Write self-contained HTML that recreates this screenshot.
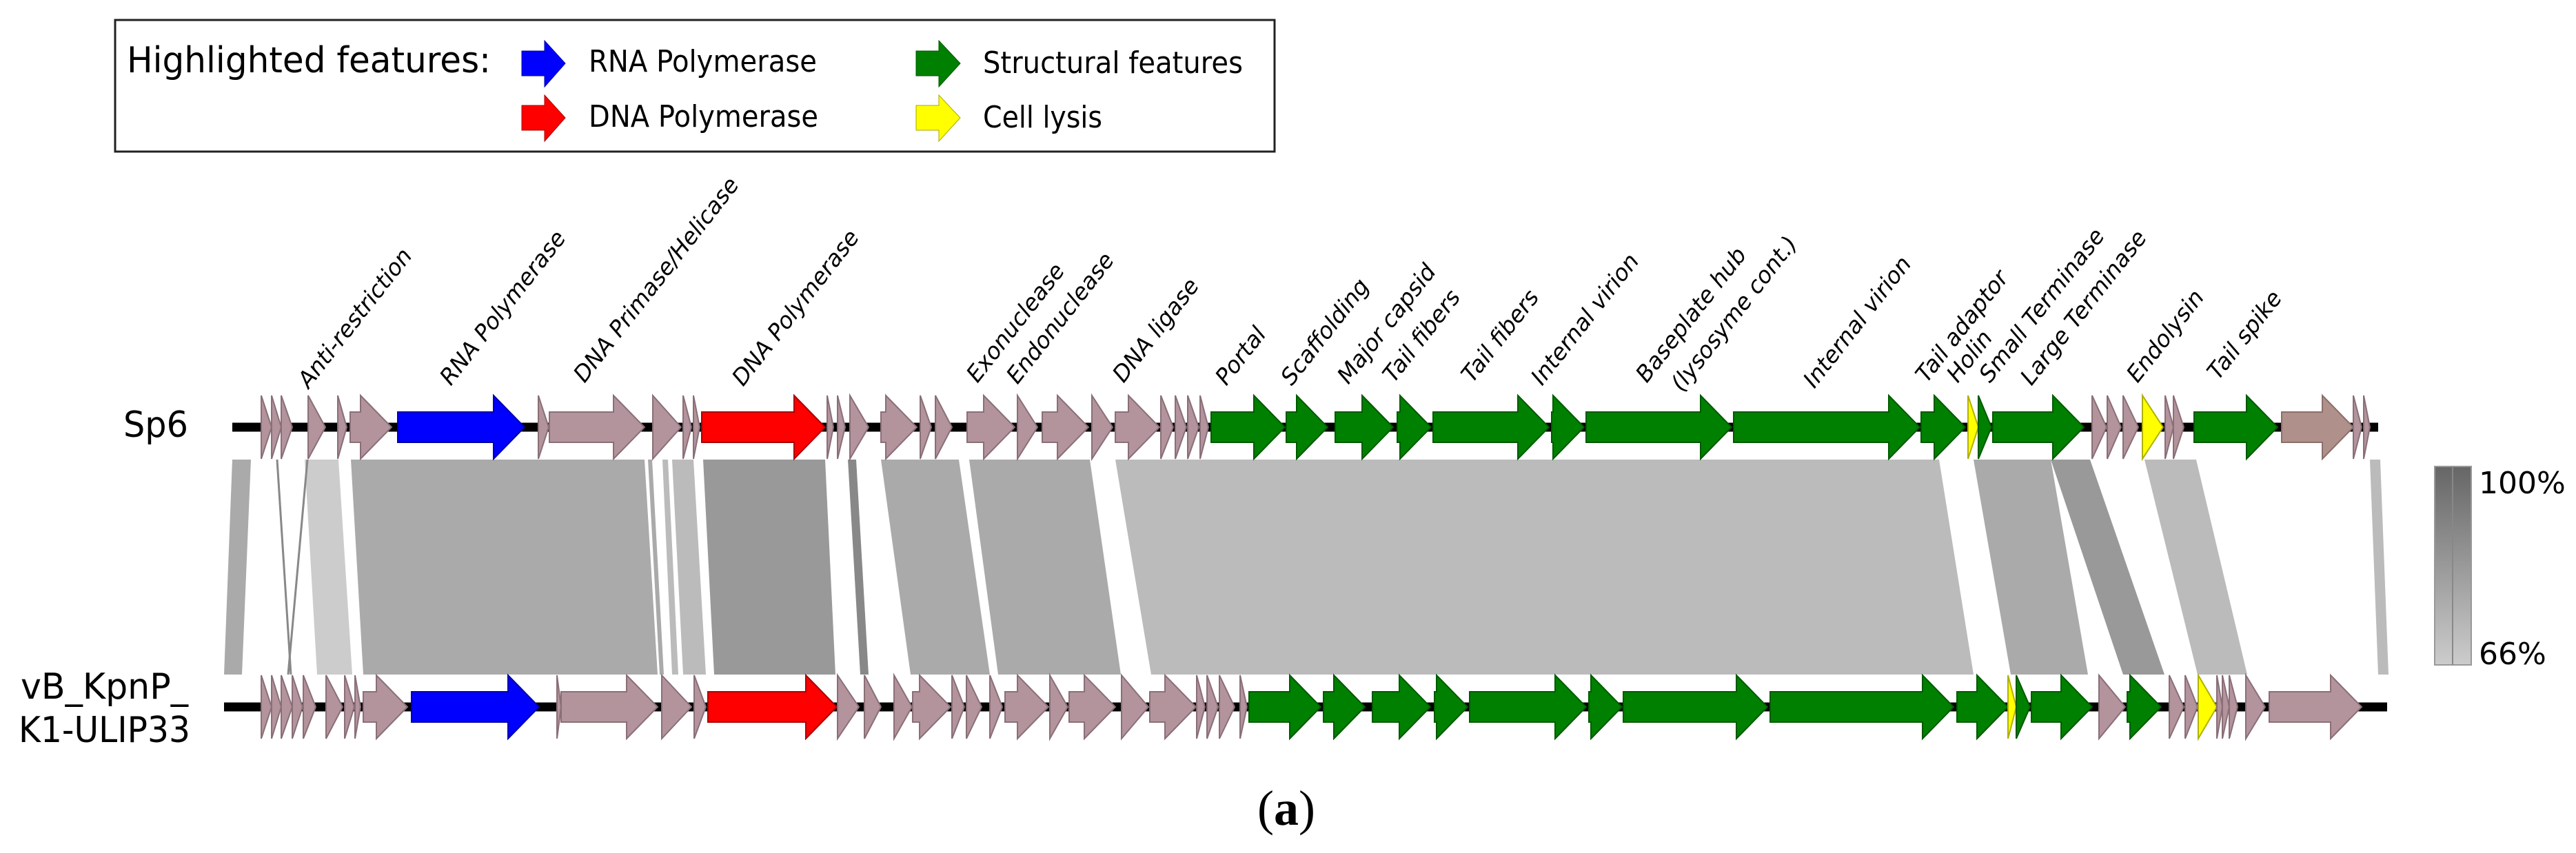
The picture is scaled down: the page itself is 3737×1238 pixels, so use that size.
<!DOCTYPE html>
<html><head><meta charset="utf-8"><style>
html,body{margin:0;padding:0;background:#fff;}
svg{display:block;}
.lab{font-family:"DejaVu Sans","Liberation Sans",sans-serif;font-style:oblique;font-size:33px;fill:#000;}
.big{font-family:"DejaVu Sans","Liberation Sans",sans-serif;font-size:52px;fill:#000;}
.leg{font-family:"DejaVu Sans","Liberation Sans",sans-serif;font-size:44px;fill:#000;}
</style></head><body>
<svg id="s" width="3737" height="1238" viewBox="0 0 3737 1238" xmlns="http://www.w3.org/2000/svg">
<defs><linearGradient id="g" x1="0" y1="0" x2="0" y2="1"><stop offset="0" stop-color="#666"/><stop offset="1" stop-color="#ccc"/></linearGradient></defs>
<rect x="167" y="29" width="1682" height="191" fill="#fff" stroke="#222" stroke-width="3"/>
<text class="big" x="184" y="105" textLength="528" lengthAdjust="spacingAndGlyphs">Highlighted features:</text>
<polygon points="757,74 790,74 790,59 820,92 790,126 790,110 757,110" fill="#0000ff" stroke="#0000aa"/>
<polygon points="757,153 790,153 790,138 820,171 790,205 790,189 757,189" fill="#ff0000" stroke="#aa0000"/>
<polygon points="1329,74 1362,74 1362,59 1393,92 1362,126 1362,110 1329,110" fill="#008000" stroke="#005500"/>
<polygon points="1329,153 1362,153 1362,138 1393,171 1362,205 1362,189 1329,189" fill="#ffff00" stroke="#aaaa00"/>
<text class="leg" x="854" y="104" textLength="331" lengthAdjust="spacingAndGlyphs">RNA Polymerase</text>
<text class="leg" x="854" y="184" textLength="333" lengthAdjust="spacingAndGlyphs">DNA Polymerase</text>
<text class="leg" x="1426" y="106" textLength="377" lengthAdjust="spacingAndGlyphs">Structural features</text>
<text class="leg" x="1426" y="185" textLength="173" lengthAdjust="spacingAndGlyphs">Cell lysis</text>
<text class="big" x="273" y="634" text-anchor="end" textLength="94" lengthAdjust="spacingAndGlyphs">Sp6</text>
<text class="big" x="273" y="1014" text-anchor="end" textLength="243" lengthAdjust="spacingAndGlyphs">vB_KpnP_</text>
<text class="big" x="276" y="1077" text-anchor="end" textLength="249" lengthAdjust="spacingAndGlyphs">K1-ULIP33</text>
<g id="bands"></g>
<g id="tracks"></g>
<g>
<text class="lab" transform="translate(448,565) rotate(-52)">Anti-restriction</text>
<text class="lab" transform="translate(654,561) rotate(-52)">RNA Polymerase</text>
<text class="lab" transform="translate(848,557) rotate(-52)">DNA Primase/Helicase</text>
<text class="lab" transform="translate(1078,562) rotate(-52)">DNA Polymerase</text>
<text class="lab" transform="translate(1418,557) rotate(-52)">Exonuclease</text>
<text class="lab" transform="translate(1476,559) rotate(-52)">Endonuclease</text>
<text class="lab" transform="translate(1630,557) rotate(-52)">DNA ligase</text>
<text class="lab" transform="translate(1779,561) rotate(-52)">Portal</text>
<text class="lab" transform="translate(1874,561) rotate(-52)">Scaffolding</text>
<text class="lab" transform="translate(1956,559) rotate(-52)">Major capsid</text>
<text class="lab" transform="translate(2022,557) rotate(-52)">Tail fibers</text>
<text class="lab" transform="translate(2136,557) rotate(-52)">Tail fibers</text>
<text class="lab" transform="translate(2237,561) rotate(-52)">Internal virion</text>
<text class="lab" transform="translate(2389,557) rotate(-52)">Baseplate hub</text>
<text class="lab" transform="translate(2440,570) rotate(-52)">(lysosyme cont.)</text>
<text class="lab" transform="translate(2632,565) rotate(-52)">Internal virion</text>
<text class="lab" transform="translate(2795,557) rotate(-52)">Tail adaptor</text>
<text class="lab" transform="translate(2840,557) rotate(-52)">Holin</text>
<text class="lab" transform="translate(2887,557) rotate(-52)">Small Terminase</text>
<text class="lab" transform="translate(2947,561) rotate(-52)">Large Terminase</text>
<text class="lab" transform="translate(3101,557) rotate(-52)">Endolysin</text>
<text class="lab" transform="translate(3218,553) rotate(-52)">Tail spike</text>
</g>
<rect x="3532" y="677" width="53" height="288" fill="url(#g)" stroke="#999" stroke-width="2"/>
<line x1="3558" y1="677" x2="3558" y2="965" stroke="#888" stroke-width="2"/>
<text class="leg" x="3596" y="716" font-size="40">100%</text>
<text class="leg" x="3596" y="964" font-size="40">66%</text>
<text x="1866" y="1197" text-anchor="middle" font-family="Liberation Serif,serif" font-size="72" fill="#000">(<tspan font-weight="bold">a</tspan>)</text>
</svg>
<script>
var NS="http://www.w3.org/2000/svg";
var C={m:"#b3939c",b:"#0000ff",r:"#ff0000",g:"#008000",y:"#ffff00",n:"#b0908b"};
var S={m:"#8a6f77",b:"#0000aa",r:"#aa0000",g:"#005a00",y:"#b0b000",n:"#8a6f6a"};
function el(p,t,a){var e=document.createElementNS(NS,t);for(var k in a)e.setAttribute(k,a[k]);p.appendChild(e);return e;}
var tr=document.getElementById("tracks"),bd=document.getElementById("bands");
function track(y,x0,x1,genes){
 el(tr,"line",{x1:x0,y1:y,x2:x1,y2:y,stroke:"#000","stroke-width":13});
 genes.forEach(function(g){
  var a=g[0],b=g[1],c=g[2]||"m",L=b-a,h=Math.min(L,45),pts;
  if(L<=45){pts=[a,y-46,b,y,a,y+46];}
  else pts=[a,y-22,b-h,y-22,b-h,y-46,b,y,b-h,y+46,b-h,y+22,a,y+22];
  el(tr,"polygon",{points:pts.join(" "),fill:C[c],stroke:S[c],"stroke-width":2});
 });
}
track(620,337,3450,[[379,394],[394,408],[408,424],[447,472],[490,503],[508,568],[577,761,"b"],[781,796],[797,935],[947,988],[991,1003],[1006,1015],[1018,1197,"r"],[1200,1209],[1215,1226],[1233,1260],[1278,1330],[1335,1351],[1357,1381],[1403,1472],[1476,1505],[1512,1579],[1584,1614],[1618,1682],[1684,1702],[1705,1721],[1723,1739],[1741,1753],[1757,1864,"g"],[1866,1926,"g"],[1937,2021,"g"],[2027,2076,"g"],[2079,2247,"g"],[2251,2298,"g"],[2301,2512,"g"],[2515,2785,"g"],[2787,2851,"g"],[2855,2870,"y"],[2870,2889,"g"],[2891,3023,"g"],[3035,3056],[3057,3077],[3080,3102],[3108,3138,"y"],[3141,3153],[3153,3168],[3183,3304,"g"],[3310,3414,"n"],[3414,3426],[3429,3438]]);
track(1026,325,3463,[[379,394],[394,408],[408,424],[424,439],[440,458],[473,497],[500,514],[515,523],[527,591],[597,782,"b"],[808,814],[814,954],[960,1003],[1007,1024],[1027,1214,"r"],[1215,1246],[1254,1278],[1297,1323],[1324,1379],[1381,1399],[1402,1424],[1436,1454],[1458,1521],[1523,1549],[1551,1618],[1627,1666],[1668,1735],[1736,1748],[1751,1767],[1769,1791],[1799,1809],[1812,1916,"g"],[1920,1980,"g"],[1991,2075,"g"],[2081,2129,"g"],[2132,2301,"g"],[2305,2353,"g"],[2355,2564,"g"],[2568,2834,"g"],[2839,2913,"g"],[2913,2925,"y"],[2925,2945,"g"],[2947,3035,"g"],[3045,3083],[3086,3135,"g"],[3147,3168],[3170,3188],[3189,3216,"y"],[3216,3224],[3224,3234],[3234,3246],[3258,3286],[3292,3426]]);
var T=667,B=979;
[[337,364,325,351,"#aaa"],[442,491,460,511,"#ccc"],[509,935,527,954,"#aaa"],[940,946,957,963,"#aaa"],[961,969,975,984,"#bbb"],[975,1006,991,1024,"#bbb"],[1020,1197,1036,1212,"#999"],[1230,1242,1248,1260,"#888"],[1278,1391,1321,1436,"#aaa"],[1406,1581,1448,1626,"#aaa"],[1618,2813,1670,2863,"#bbb"],[2863,2975,2917,3029,"#aaa"],[2975,3032,3080,3140,"#999"],[3111,3186,3188,3260,"#bbb"],[3438,3453,3450,3465,"#bbb"]].forEach(function(b){
 el(bd,"polygon",{points:[b[0],T,b[1],T,b[3],B,b[2],B].join(" "),fill:b[4]});
});
el(bd,"line",{x1:402,y1:T,x2:422,y2:B,stroke:"#888","stroke-width":3});
el(bd,"line",{x1:446,y1:T,x2:418,y2:B,stroke:"#888","stroke-width":3});
</script>
</body></html>
